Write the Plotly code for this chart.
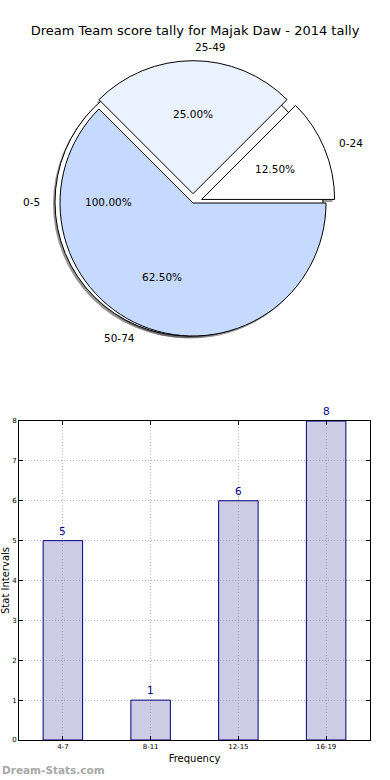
import math
import plotly.graph_objects as go

# ---------------- data ----------------
title_text = "Dream Team score tally for Majak Daw - 2014 tally"

full_labels = ["0-5"]
full_values = [1]

pie_labels = ["0-24", "25-49", "50-74"]
pie_values = [1, 2, 5]
pie_explode = [0.07, 0.07, 0.0]
pie_colors = ["#ffffff", "#eaf2ff", "#c6daff"]

bar_categories = ["4-7", "8-11", "12-15", "16-19"]
bar_values = [5, 1, 6, 8]
y_ticks = [0, 1, 2, 3, 4, 5, 6, 7, 8]

# ---------------- layout constants ----------------
W, H = 390, 780
R = 133.0                # pie radius in px
CX, CY = 193.0, 203.0    # centre of exploded pie (px from top-left)
FCX, FCY = 189.0, 202.0  # centre of the full background pie
FONT = "DejaVu Sans"


def px_to_paper(px, py):
    return px / W, 1 - py / H


def domain_for(cx, cy, r, pull=0.0):
    half = r * (1 + pull)
    return dict(x=[(cx - half) / W, (cx + half) / W],
                y=[1 - (cy + half) / H, 1 - (cy - half) / H])


fig = go.Figure()
maxpull = max(pie_explode)
rot = 90 - 360 * pie_values[0] / sum(pie_values)

# shadows (beneath every wedge)
fig.add_trace(go.Pie(
    labels=full_labels, values=full_values, sort=False,
    marker=dict(colors=["rgba(60,60,60,0.55)"], line=dict(width=0)),
    textinfo="none", hoverinfo="skip", showlegend=False,
    domain=domain_for(FCX - 2, FCY + 2, R + 1),
))
fig.add_trace(go.Pie(
    labels=pie_labels, values=pie_values, sort=False,
    direction="counterclockwise", rotation=rot, pull=pie_explode,
    marker=dict(colors=["rgba(60,60,60,0.5)"] * len(pie_values), line=dict(width=0)),
    textinfo="none", hoverinfo="skip", showlegend=False,
    domain=domain_for(CX - 2, CY + 2.5, R, maxpull),
))
# full background pie "0-5"
fig.add_trace(go.Pie(
    labels=full_labels, values=full_values, sort=False,
    marker=dict(colors=["#ffffff"], line=dict(color="black", width=1)),
    textinfo="none", hoverinfo="skip", showlegend=False,
    domain=domain_for(FCX, FCY, R + 1),
))
# exploded pie
fig.add_trace(go.Pie(
    labels=pie_labels, values=pie_values, sort=False,
    direction="counterclockwise", rotation=rot, pull=pie_explode,
    marker=dict(colors=pie_colors, line=dict(color="black", width=1)),
    textinfo="none", hoverinfo="label+percent", showlegend=False,
    domain=domain_for(CX, CY, R, maxpull),
))

annotations = []


def pie_texts(labels, values, explode, cx, cy, r):
    total = float(sum(values))
    start = 0.0
    for lab, v, ex in zip(labels, values, explode):
        frac = v / total
        mid = math.radians(360 * (start + frac / 2))
        c, s = math.cos(mid), math.sin(mid)
        off = ex * r
        px = cx + (off + 0.6 * r) * c
        py = cy - (off + 0.6 * r) * s
        x, y = px_to_paper(px, py)
        annotations.append(dict(x=x, y=y, xref="paper", yref="paper",
                                text=f"{frac * 100:.2f}%", showarrow=False,
                                xanchor="center", yanchor="middle",
                                font=dict(family=FONT, size=10.5, color="black")))
        px = cx + (off + 1.1 * r) * c
        py = cy - (off + 1.1 * r) * s
        x, y = px_to_paper(px, py)
        annotations.append(dict(x=x, y=y, xref="paper", yref="paper",
                                text=lab, showarrow=False,
                                xanchor="left" if c > 0 else "right", yanchor="middle",
                                font=dict(family=FONT, size=10.5, color="black")))
        start += frac


pie_texts(full_labels, full_values, [0.0], FCX, FCY, R + 1)
pie_texts(pie_labels, pie_values, pie_explode, CX, CY, R)

# ---------------- bar chart ----------------
fig.add_trace(go.Bar(
    x=bar_categories, y=bar_values, width=0.45,
    marker=dict(color="rgba(153,153,203,0.5)", line=dict(color="#000080", width=1)),
    showlegend=False, hoverinfo="x+y",
    xaxis="x", yaxis="y",
))
for cat, v in zip(bar_categories, bar_values):
    annotations.append(dict(x=cat, y=v, xref="x", yref="y", text=str(v),
                            showarrow=False, xanchor="center", yanchor="bottom",
                            yshift=2,
                            font=dict(family=FONT, size=10.5, color="#00008b")))

# watermark
annotations.append(dict(x=0, y=1 - 770 / H, xref="paper", yref="paper",
                        text="<b>Dream-Stats.com</b>", showarrow=False,
                        xanchor="left", yanchor="middle",
                        font=dict(family=FONT, size=10.5, color="#a8a8a8")))

axis_common = dict(
    showline=True, linecolor="black", linewidth=1, mirror="allticks",
    ticks="inside", ticklen=4, tickcolor="black", tickwidth=1,
    showgrid=True, gridcolor="#b4b4b4", griddash="1px,2px", gridwidth=1,
    zeroline=False, automargin=False,
    tickfont=dict(family=FONT, size=7, color="black"),
)

fig.update_layout(
    width=W, height=H,
    margin=dict(l=0, r=0, t=0, b=0),
    paper_bgcolor="white", plot_bgcolor="white",
    title=dict(text=title_text, x=0.5, xanchor="center",
               y=1 - 30 / H, yanchor="middle",
               font=dict(family=FONT, size=13, color="black")),
    xaxis=dict(domain=[19 / W, 370 / W], anchor="y", range=[-0.5, 3.5],
               type="category",
               title=dict(text="Frequency", standoff=4,
                          font=dict(family=FONT, size=10, color="black")),
               **axis_common),
    yaxis=dict(domain=[1 - 740 / H, 1 - 421 / H], anchor="x", range=[0, 8],
               tickvals=y_ticks, ticktext=[str(t) for t in y_ticks],
               title=dict(text="Stat Intervals", standoff=3,
                          font=dict(family=FONT, size=10, color="black")),
               **axis_common),
    annotations=annotations,
    font=dict(family=FONT),
)

fig.write_html("out.html",
               config={"displayModeBar": False},
               post_script="document.body.style.margin='0';document.body.style.overflow='hidden';")
